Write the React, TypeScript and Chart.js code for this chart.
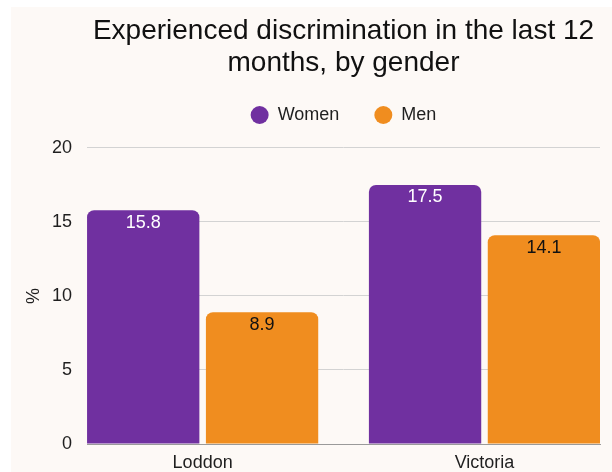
import React, { useEffect, useRef } from 'react';
import { Chart, registerables } from 'chart.js';

Chart.register(...registerables);

const categories = ['Loddon', 'Victoria'];
const seriesNames = ['Women', 'Men'];
const women = [15.8, 17.5];
const men = [8.9, 14.1];
const yTicks = [0, 5, 10, 15, 20];
const titleLines = ['Experienced discrimination in the last 12', 'months, by gender'];
const yTitle = '%';

const FONT = "'Liberation Sans', Arial, Helvetica, sans-serif";
const TEXT = '#1f1f1f';

const valueLabels = {
  id: 'valueLabels',
  afterDatasetsDraw(chart: any) {
    const ctx = chart.ctx;
    ctx.save();
    ctx.font = `18px ${FONT}`;
    ctx.textAlign = 'center';
    ctx.textBaseline = 'middle';
    chart.data.datasets.forEach((ds: any, di: number) => {
      const meta = chart.getDatasetMeta(di);
      meta.data.forEach((bar: any, i: number) => {
        const v = ds.data[i].y as number;
        ctx.fillStyle = ds.labelColor;
        ctx.fillText(v.toFixed(1), bar.x, bar.y + 12.5);
      });
    });
    ctx.restore();
  },
};

export default function App() {
  const ref = useRef<HTMLCanvasElement | null>(null);

  useEffect(() => {
    if (!ref.current) return;
    const toPoints = (vals: number[]) => categories.map((_, i) => ({ x: i, y: vals[i] }));
    const barCommon = {
      borderRadius: { topLeft: 7, topRight: 7, bottomLeft: 0, bottomRight: 0 },
      borderSkipped: 'start',
      categoryPercentage: 0.8434,
      barPercentage: 0.945,
      pointStyle: 'circle',
    };
    const chart = new Chart(ref.current, {
      type: 'bar',
      data: {
        datasets: [
          { label: seriesNames[0], data: toPoints(women), backgroundColor: '#7030A0', labelColor: '#ffffff', ...barCommon } as any,
          { label: seriesNames[1], data: toPoints(men), backgroundColor: '#F08D1F', labelColor: '#111111', ...barCommon } as any,
        ],
      },
      options: {
        animation: false,
        responsive: false,
        maintainAspectRatio: false,
        layout: { padding: { left: 3, right: 12, top: 0, bottom: 0 } },
        scales: {
          x: {
            type: 'linear',
            min: -0.4103,
            max: 1.4098,
            offset: false,
            grid: { display: false, drawTicks: false },
            border: { display: true, color: '#9a9a9a', width: 1 },
            afterBuildTicks: (s: any) => {
              s.ticks = categories.map((_, i) => ({ value: i }));
            },
            ticks: {
              callback: (v: any) => categories[v as number] ?? '',
              font: { size: 18, family: FONT },
              color: TEXT,
              padding: 8,
              autoSkip: false,
              maxRotation: 0,
            },
            afterFit: (s: any) => {
              s.height = 28;
            },
          } as any,
          y: {
            min: 0,
            max: 20,
            afterBuildTicks: (s: any) => {
              s.ticks = yTicks.map((v) => ({ value: v }));
            },
            grid: { color: '#d3d3d3', drawTicks: false, lineWidth: 1 },
            border: { display: false },
            ticks: { font: { size: 18, family: FONT }, color: TEXT, padding: 15 },
            title: {
              display: true,
              text: yTitle,
              font: { size: 18, family: FONT },
              color: TEXT,
              padding: { top: 9, bottom: 8 },
            },
            afterFit: (s: any) => {
              s.width = 73;
            },
          } as any,
        },
        plugins: {
          title: {
            display: true,
            text: titleLines,
            fullSize: false,
            color: '#111111',
            font: { size: 28, family: FONT, weight: 'normal', lineHeight: 1.157 },
            padding: { top: 8, bottom: -8.8 },
          },
          legend: {
            display: true,
            position: 'top',
            fullSize: false,
            labels: {
              usePointStyle: true,
              pointStyle: 'circle',
              pointStyleWidth: 18,
              boxHeight: 12.73,
              font: { size: 18, family: FONT },
              color: TEXT,
              padding: 35,
            },
          },
          subtitle: {
            display: true,
            text: '',
            position: 'top',
            fullSize: false,
            weight: 500,
            font: { size: 2, family: FONT },
            padding: { top: 11.6, bottom: 0 },
          },
          tooltip: { enabled: false },
        },
      } as any,
      plugins: [valueLabels],
    });
    return () => chart.destroy();
  }, []);

  return (
    <div
      style={{
        position: 'absolute',
        left: 11,
        top: 7,
        width: 601,
        height: 465,
        background: '#FDF9F6',
      }}
    >
      <canvas ref={ref} width={601} height={465} style={{ display: 'block' }} />
    </div>
  );
}
